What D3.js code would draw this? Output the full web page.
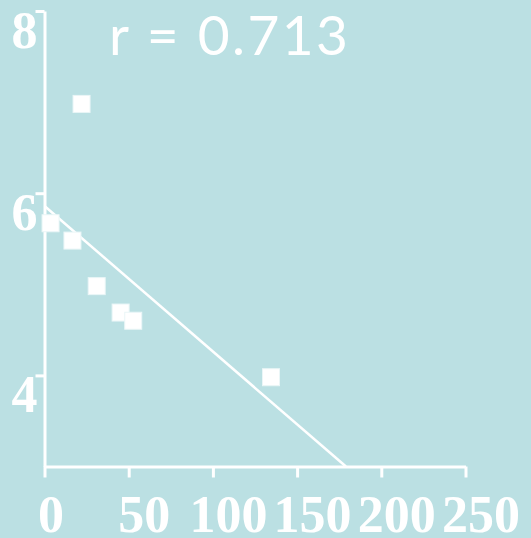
<!DOCTYPE html>
<html>
<head>
<meta charset="utf-8">
<script src="https://cdn.jsdelivr.net/npm/d3@7"></script>
<style>
  html, body { margin: 0; padding: 0; background: #bbe0e3; }
  svg { display: block; }
</style>
</head>
<body>
<div id="chart"></div>
<script>
// scatter + regression line, white on teal
const xVals = [3.6, 16.6, 22.0, 31.0, 45.2, 52.7, 134.5];
const yVals = [5.67, 5.48, 6.98, 4.98, 4.69, 4.60, 3.98];
// fitted line, endpoints in data units
const fitX = [0, 179];
const fitY = [5.86, 3.0];
const xTicks = [0, 50, 100, 150, 200, 250];
const yTicks = [4, 6, 8];
const rLabel = 'r = 0.713';

const W = 531, H = 538;
const BG = '#bbe0e3', FG = '#ffffff';
const SERIF = '"Liberation Serif", "Times New Roman", serif';

const svg = d3.select('#chart').append('svg')
  .attr('width', W).attr('height', H);
svg.append('rect').attr('width', W).attr('height', H).attr('fill', BG);

const x = d3.scaleLinear().domain([0, 250]).range([44.5, 465.5]);
const y = d3.scaleLinear().domain([3, 8]).range([466.5, 11]);

// axes
const xAxis = svg.append('g').attr('transform', `translate(0,${y(3)})`)
  .call(d3.axisBottom(x).tickValues(xTicks).tickFormat(d3.format('d'))
    .tickSize(11).tickSizeOuter(0));
const yAxis = svg.append('g').attr('transform', `translate(${x(0)},0)`)
  .call(d3.axisLeft(y).tickValues(yTicks).tickFormat(d3.format('d'))
    .tickSize(9).tickSizeOuter(0).tickPadding(-2));

[xAxis, yAxis].forEach(a => {
  a.select('.domain').attr('stroke', FG).attr('stroke-width', 3);
  a.selectAll('.tick line').attr('stroke', FG).attr('stroke-width', 3);
  a.selectAll('.tick text')
    .attr('fill', FG).attr('font-family', SERIF).attr('font-weight', 700)
    .attr('font-size', 52);
});
// x labels sit a little right of their ticks, near the bottom edge
xAxis.selectAll('.tick text').attr('dx', d => d === 0 ? 6 : 15).attr('dy', 0)
  .attr('y', 532 - y(3));
// y labels hang below their ticks
yAxis.selectAll('.tick text').attr('dy', 0).attr('y', 36);

// regression line
svg.append('line')
  .attr('x1', x(fitX[0])).attr('y1', y(fitY[0]))
  .attr('x2', x(fitX[1])).attr('y2', y(fitY[1]))
  .attr('stroke', FG).attr('stroke-width', 2.5);

// points
const pts = xVals.map((v, i) => ({ x: v, y: yVals[i] }));
const s = 17;
svg.append('g').selectAll('rect').data(pts).join('rect')
  .attr('x', d => x(d.x) - s / 2).attr('y', d => y(d.y) - s / 2)
  .attr('width', s).attr('height', s)
  .attr('fill', FG).attr('stroke', '#eaf6f7').attr('stroke-width', 1);

// correlation label
svg.append('text')
  .attr('x', 109).attr('y', 55)
  .attr('font-family', 'Lato, "Open Sans", sans-serif')
  .attr('font-size', 55).attr('fill', FG)
  .attr('textLength', 239).attr('lengthAdjust', 'spacing')
  .text(rLabel);
</script>
</body>
</html>
